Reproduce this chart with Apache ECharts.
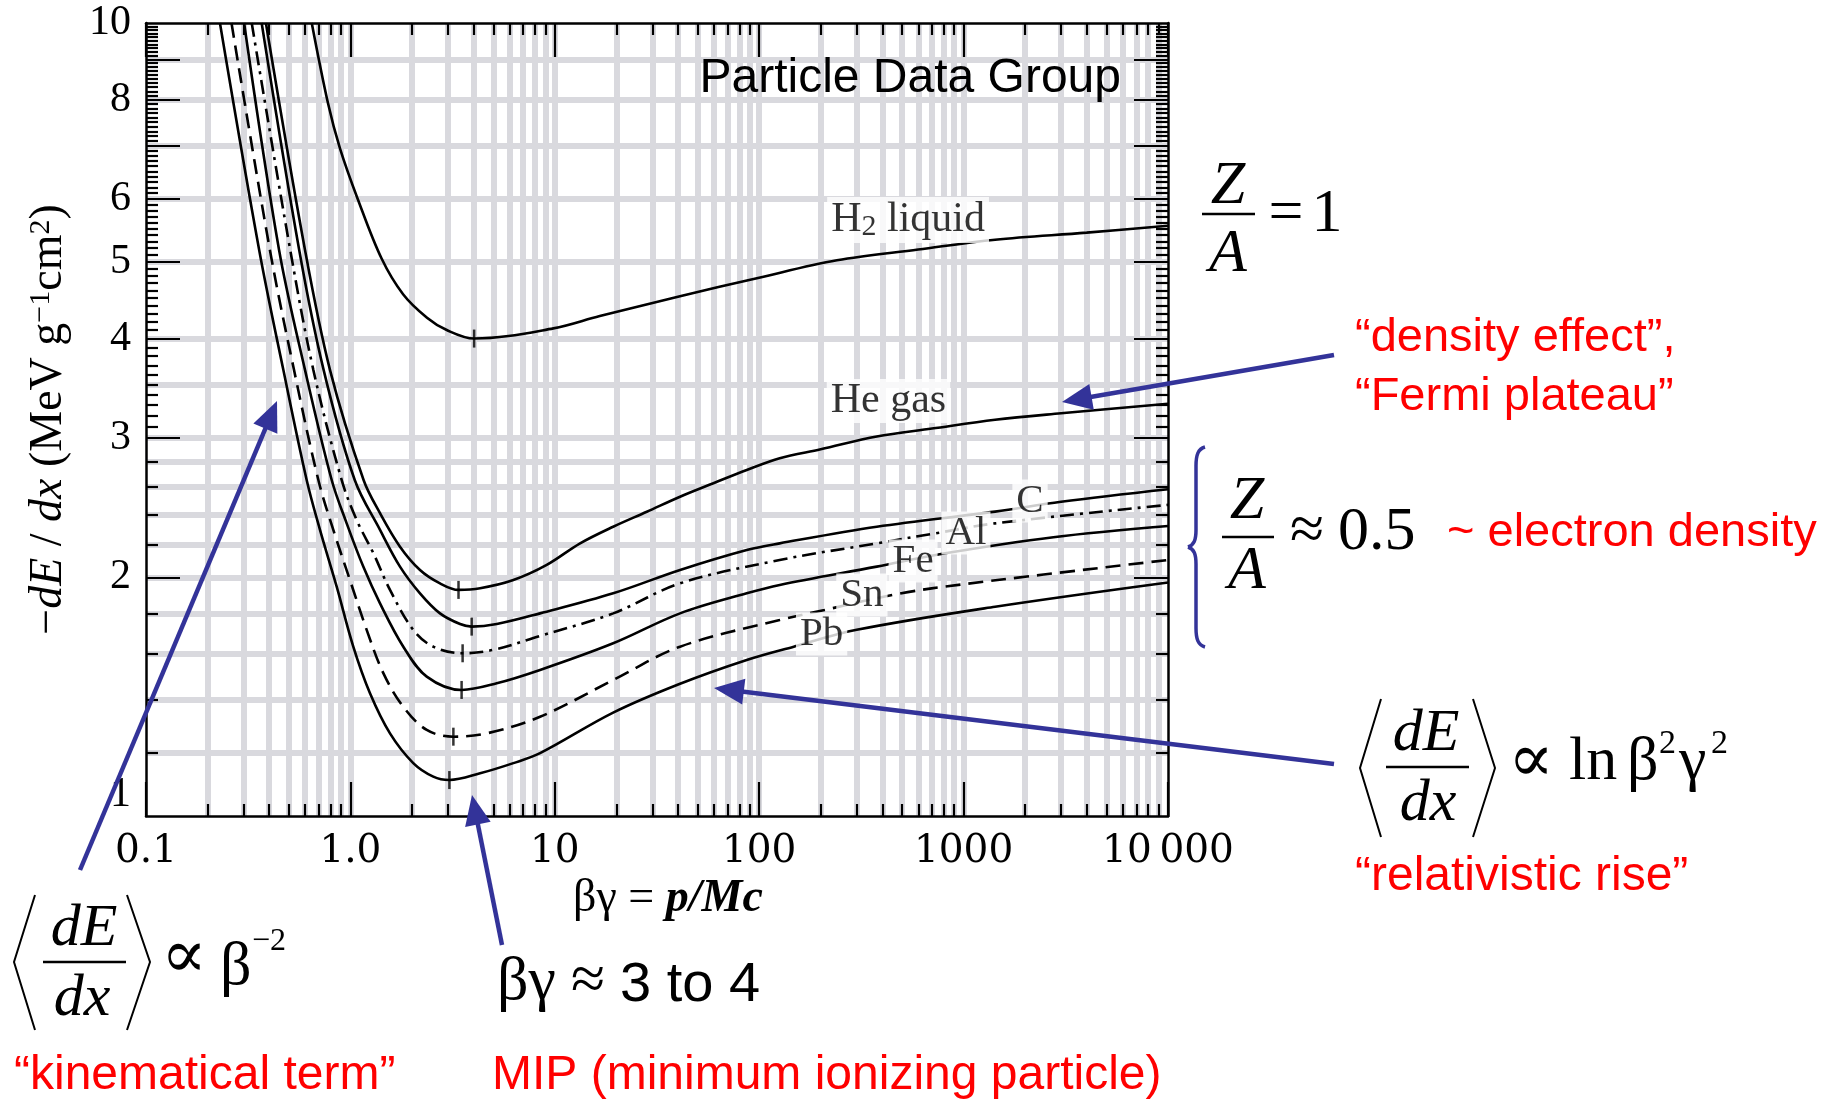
<!DOCTYPE html>
<html><head><meta charset="utf-8">
<script src="https://cdn.jsdelivr.net/npm/echarts@6/dist/echarts.min.js"></script>
<style>html,body{margin:0;padding:0;background:#fff}#c{width:1835px;height:1107px}</style>
</head><body><div id="c"></div>
<script>
// ---------- axis ticks / labels ----------
const xMajorTicks = [0.1, 1, 10, 100, 1000, 10000];
const xTickLabels = ['0.1', '1.0', '10', '100', '1000', '10\u2009000'];
const xMinorTicks = [0.2,0.3,0.4,0.5,0.6,0.7,0.8,0.9, 2,3,4,5,6,7,8,9, 20,30,40,50,60,70,80,90,
  200,300,400,500,600,700,800,900, 2000,3000,4000,5000,6000,7000,8000,9000];
const xGridLines = [0.2,0.3,0.4,0.5,0.6,0.7,0.8,0.9,1, 2,3,4,5,6,7,8,9,10, 20,30,40,50,60,70,80,90,100,
  200,300,400,500,600,700,800,900,1000, 2000,3000,4000,5000,6000,7000,8000,9000];
const yLabelTicks = [1, 2, 3, 4, 5, 6, 8, 10];
const yTickLabels = ['1', '2', '3', '4', '5', '6', '8', '10'];
const yLongTicks = [2, 3, 4, 5, 6, 7, 8, 9];
const yMinorTicks = [1.2,1.4,1.6,1.8, 2.2,2.4,2.6,2.8, 3.1,3.2,3.3,3.4,3.5,3.6,3.7,3.8,3.9,
  4.1,4.2,4.3,4.4,4.5,4.6,4.7,4.8,4.9, 5.1,5.2,5.3,5.4,5.5,5.6,5.7,5.8,5.9,
  6.1,6.2,6.3,6.4,6.5,6.6,6.7,6.8,6.9, 7.1,7.2,7.3,7.4,7.5,7.6,7.7,7.8,7.9,
  8.1,8.2,8.3,8.4,8.5,8.6,8.7,8.8,8.9, 9.1,9.2,9.3,9.4,9.5,9.6,9.7,9.8,9.9];
const yGridLines = [1.2,1.4,1.6,1.8,2,2.2,2.4,2.6,2.8,3,3.5,4,5,6,7,8,9];

// ---------- curves: [βγ, -dE/dx] ----------
const h2Liquid = [[0.647,10],[0.777,7.92],[0.889,6.95],[1.086,6.0],[1.419,5.05],[1.81,4.55],[2.37,4.25],[2.96,4.10],[4.03,4.00],[9.84,4.12],[16.6,4.27],[40.5,4.52],[98.6,4.77],[240,5.02],[600,5.18],[1426,5.33],[4000,5.44],[10000,5.55]];
const heGas = [[0.386,10],[0.600,5.17],[0.795,3.65],[1.16,2.653],[1.396,2.409],[1.748,2.186],[2.19,2.043],[2.744,1.965],[3.38,1.928],[4.31,1.937],[6.27,1.984],[9.13,2.073],[13.3,2.207],[19.3,2.316],[28.2,2.419],[41,2.527],[59.7,2.628],[86.9,2.731],[126,2.826],[200,2.90],[376,3.01],[700,3.08],[1426,3.16],[3000,3.22],[10000,3.31]];
const carbon = [[0.368,10],[0.562,5.17],[0.740,3.65],[1.05,2.653],[1.396,2.295],[1.748,2.063],[2.19,1.909],[2.744,1.801],[3.44,1.746],[3.92,1.733],[5.2,1.746],[8.47,1.801],[19.3,1.909],[41,2.043],[86.9,2.165],[126,2.207],[376,2.316],[1426,2.42],[3000,2.49],[10000,2.582]];
const aluminium = [[0.329,10],[0.508,5.17],[0.659,3.65],[0.906,2.653],[1.073,2.362],[1.295,2.145],[1.562,1.928],[2.03,1.717],[2.544,1.635],[3.54,1.604],[5.0,1.62],[8.47,1.687],[19.3,1.801],[41,1.965],[126,2.103],[376,2.207],[733,2.273],[1426,2.339],[10000,2.468]];
const iron = [[0.302,10],[0.448,5.17],[0.600,3.65],[0.810,2.653],[0.959,2.339],[1.156,2.063],[1.396,1.854],[1.815,1.635],[2.363,1.499],[3.50,1.442],[5.2,1.47],[8.47,1.528],[19.3,1.651],[41,1.801],[86.9,1.909],[126,1.956],[376,2.063],[800,2.143],[2750,2.247],[10000,2.321]];
const tin = [[0.262,10],[0.404,5.17],[0.530,3.65],[0.697,2.653],[0.825,2.295],[0.995,1.984],[1.201,1.717],[1.449,1.514],[1.815,1.373],[2.363,1.284],[3.19,1.259],[4.64,1.271],[8.47,1.334],[19.3,1.484],[41,1.635],[126,1.767],[209,1.819],[489,1.908],[1000,1.96],[10000,2.103]];
const lead = [[0.230,10],[0.358,5.17],[0.470,3.65],[0.611,2.653],[0.710,2.295],[0.857,1.946],[1.033,1.635],[1.247,1.428],[1.562,1.271],[2.03,1.166],[2.544,1.121],[3.05,1.110],[4.31,1.132],[6.27,1.166],[8.47,1.2],[19.3,1.35],[41,1.468],[86.9,1.573],[147.6,1.635],[300,1.717],[1426,1.836],[10000,1.97]];
const minima = [[4.03,4.00],[3.38,1.928],[3.92,1.733],[3.54,1.604],[3.50,1.442],[3.19,1.259],[3.05,1.110]];
const curveNames = ['H2 liquid','He gas','C','Al','Fe','Sn','Pb'];

// ---------- styling ----------
const SERIF = '"Liberation Serif","DejaVu Serif",serif';
const WSERIF = '"DejaVu Serif","Liberation Serif",serif';
const SANS = '"Liberation Sans",Arial,sans-serif';
const BLUE = '#333399';
const RED = '#ff0000';
const GRID = '#d9d9de';

function xAx(pos, ticks, len, showLine, extra) {
  return Object.assign({
    type: 'log', logBase: 10, min: 0.1, max: 10000, position: pos, z: 6,
    axisLine: { show: showLine, lineStyle: { color: '#000', width: 2.5 } },
    axisTick: { show: true, inside: true, length: len, customValues: ticks, lineStyle: { color: '#000', width: 2.2 } },
    axisLabel: { show: false }, splitLine: { show: false }, minorTick: { show: false }, minorSplitLine: { show: false }
  }, extra || {});
}
function yAx(pos, ticks, len, showLine, extra) {
  return Object.assign({
    type: 'log', logBase: 10, min: 1, max: 10, position: pos, z: 6,
    axisLine: { show: showLine, lineStyle: { color: '#000', width: 2.5 } },
    axisTick: { show: true, inside: true, length: len, customValues: ticks, lineStyle: { color: '#000', width: 2.2 } },
    axisLabel: { show: false }, splitLine: { show: false }, minorTick: { show: false }, minorSplitLine: { show: false }
  }, extra || {});
}
function lab(arrT, arrL) {
  return v => { const i = arrT.findIndex(t => Math.abs(t - v) / t < 1e-6); return i >= 0 ? arrL[i] : ''; };
}

const lineSeries = (name, data, type) => ({
  name, type: 'line', data, xAxisIndex: 0, yAxisIndex: 0, smooth: 0.35, showSymbol: false, symbol: 'none',
  lineStyle: { color: '#000', width: 2.6, type: type || 'solid' }, z: 3, animation: false, clip: true
});

// graphic helpers
function txt(x, base, text, size, o) {
  o = o || {};
  return { type: 'text', x: x, y: base - size * 0.32, z: 100, silent: true,
    style: { text: text, font: (o.italic ? 'italic ' : '') + (o.bold ? 'bold ' : '') + size + 'px ' + (o.sans ? SANS : SERIF),
      fill: o.color || '#000', align: o.align || 'left', verticalAlign: 'middle' } };
}
function seg(x1, y1, x2, y2, w, c) {
  return { type: 'line', z: 100, silent: true, shape: { x1: x1, y1: y1, x2: x2, y2: y2 }, style: { stroke: c || '#000', lineWidth: w || 2.5 } };
}
function hline(x1, x2, y, w, c) { return seg(x1, y, x2, y, w, c); }
function poly(pts, w, c) {
  return { type: 'polyline', z: 100, silent: true, shape: { points: pts }, style: { stroke: c || '#000', lineWidth: w || 2, fill: null } };
}
function bez(x1, y1, c1x, c1y, c2x, c2y, x2, y2, w, c) {
  return { type: 'bezierCurve', z: 100, silent: true,
    shape: { x1: x1, y1: y1, cpx1: c1x, cpy1: c1y, cpx2: c2x, cpy2: c2y, x2: x2, y2: y2 },
    style: { stroke: c, lineWidth: w, fill: null } };
}
function arrow(x1, y1, x2, y2) {
  const dx = x2 - x1, dy = y2 - y1, L = Math.hypot(dx, dy), ux = dx / L, uy = dy / L;
  const hl = 30, hw = 13, bx = x2 - ux * hl, by = y2 - uy * hl;
  return [
    { type: 'line', z: 100, silent: true, shape: { x1: x1, y1: y1, x2: bx + ux * 4, y2: by + uy * 4 }, style: { stroke: BLUE, lineWidth: 4.5 } },
    { type: 'polygon', z: 100, silent: true, shape: { points: [[x2, y2], [bx - uy * hw, by + ux * hw], [bx + uy * hw, by - ux * hw]] }, style: { fill: BLUE } }
  ];
}

const graphics = [
  // Particle Data Group
  txt(1121, 94, 'Particle Data Group', 48, { sans: true, align: 'right' }),
  // Z/A = 1
  txt(1228, 207, 'Z', 62, { italic: true, align: 'center' }),
  hline(1202, 1255, 214, 2.5),
  txt(1228, 275, 'A', 62, { italic: true, align: 'center' }),
  txt(1286, 235, '=', 62, { align: 'center' }),
  txt(1327, 235, '1', 62, { align: 'center' }),
  // density effect
  txt(1355, 353, '\u201cdensity effect\u201d,', 47, { sans: true, color: RED }),
  txt(1355, 412, '\u201cFermi plateau\u201d', 47, { sans: true, color: RED }),
  ...arrow(1334, 355, 1062, 402),
  // brace
  bez(1205, 447, 1198, 449, 1196, 455, 1196, 466, 3.5, BLUE),
  seg(1196, 466, 1196, 530, 3.5, BLUE),
  bez(1196, 530, 1196, 540, 1194, 545, 1188, 547, 3.5, BLUE),
  bez(1188, 547, 1194, 549, 1196, 554, 1196, 564, 3.5, BLUE),
  seg(1196, 564, 1196, 628, 3.5, BLUE),
  bez(1196, 628, 1196, 639, 1198, 645, 1205, 647, 3.5, BLUE),
  // Z/A ≈ 0.5
  txt(1247, 522, 'Z', 62, { italic: true, align: 'center' }),
  hline(1222, 1274, 537, 2.5),
  txt(1247, 592, 'A', 62, { italic: true, align: 'center' }),
  txt(1307, 553, '\u2248', 62, { align: 'center' }),
  txt(1338, 553, '0.5', 62),
  txt(1447, 548, '~ electron density', 47, { sans: true, color: RED }),
  // <dE/dx> ∝ ln β²γ²
  poly([[1381, 699], [1360, 768], [1381, 837]]),
  poly([[1473, 699], [1495, 768], [1473, 837]]),
  txt(1426, 753, 'dE', 60, { italic: true, align: 'center' }),
  hline(1386, 1469, 767, 2.5),
  txt(1428, 823, 'dx', 60, { italic: true, align: 'center' }),
  txt(1531, 785, '\u221d', 68, { align: 'center' }),
  txt(1569, 783, 'ln', 62),
  txt(1627, 783, '\u03b2', 62),
  txt(1659, 755, '2', 34),
  txt(1679, 783, '\u03b3', 62),
  txt(1711, 755, '2', 34),
  ...arrow(1334, 764, 714, 688),
  txt(1355, 892, '\u201crelativistic rise\u201d', 48, { sans: true, color: RED }),
  // left bottom formula
  poly([[35, 895], [14, 962], [35, 1030]]),
  poly([[127, 895], [150, 962], [127, 1030]]),
  txt(84, 948, 'dE', 60, { italic: true, align: 'center' }),
  hline(43, 126, 962, 2.5),
  txt(82, 1018, 'dx', 60, { italic: true, align: 'center' }),
  txt(184, 981, '\u221d', 68, { align: 'center' }),
  txt(220, 988, '\u03b2', 62),
  txt(252, 952, '\u22122', 32),
  txt(14, 1091, '\u201ckinematical term\u201d', 48, { sans: true, color: RED }),
  ...arrow(80, 870, 277, 401),
  // MIP
  txt(497, 1003, '\u03b2\u03b3', 62),
  txt(588, 1003, '\u2248', 62, { align: 'center' }),
  txt(620, 1003, '3 to 4', 56, { sans: true }),
  txt(492, 1091, 'MIP (minimum ionizing particle)', 48, { sans: true, color: RED }),
  ...arrow(502, 945, 472, 795)
];

const labelStyleRich = {
  n: { fontFamily: SERIF, fontSize: 42, color: '#000' },
  sub: { fontFamily: SERIF, fontSize: 30, color: '#000', verticalAlign: 'bottom', padding: [14, 0, 0, 0] },
  e: { fontFamily: SERIF, fontSize: 41, color: '#000' }
};
const curveLabels = [
  { value: [535, 5.645], t: '{n|H}{sub|2}{n| liquid}' },
  { value: [429, 3.337], t: '{n|He gas}' },
  { value: [2113, 2.496], t: '{e|C}' },
  { value: [1027, 2.275], t: '{e|Al}' },
  { value: [566, 2.097], t: '{e|Fe}' },
  { value: [318, 1.900], t: '{e|Sn}' },
  { value: [202, 1.696], t: '{e|Pb}' }
];

const option = {
  animation: false,
  backgroundColor: '#fff',
  grid: { left: 146, top: 23, width: 1022, height: 793, containLabel: false },
  xAxis: [
    xAx('bottom', xMajorTicks, 34, true, {
      axisLabel: { show: true, customValues: xMajorTicks, formatter: lab(xMajorTicks, xTickLabels), margin: 16,
        color: '#000', fontFamily: WSERIF, fontSize: 39 },
      name: '{r|\u03b2\u03b3 = }{i|p/Mc}', nameLocation: 'middle', nameGap: 56,
      nameTextStyle: { padding: [0, 0, 0, 22], rich: { r: { fontFamily: SERIF, fontSize: 46, color: '#000' }, i: { fontFamily: SERIF, fontSize: 46, fontStyle: 'italic', fontWeight: 'bold', color: '#000' } } }
    }),
    xAx('bottom', xMinorTicks, 12, false),
    xAx('top', xMajorTicks, 34, true),
    xAx('top', xMinorTicks, 12, false)
  ],
  yAxis: [
    yAx('left', yLongTicks, 34, true, {
      axisLabel: { show: true, customValues: yLabelTicks, formatter: lab(yLabelTicks, yTickLabels), margin: 15,
        color: '#000', fontFamily: SERIF, fontSize: 42, verticalAlignMinLabel: 'bottom' },
      name: '{r|\u2212}{i|dE}{r| / }{i|dx}{r| (MeV g}{s|\u22121}{r|cm}{s|2}{r|)}', nameLocation: 'middle', nameRotate: 90, nameGap: 74,
      nameTextStyle: { rich: {
        r: { fontFamily: SERIF, fontSize: 46, color: '#000' },
        i: { fontFamily: SERIF, fontSize: 46, fontStyle: 'italic', color: '#000' },
        s: { fontFamily: SERIF, fontSize: 30, color: '#000', verticalAlign: 'top', padding: [0, 0, 16, 0] } } }
    }),
    yAx('left', yMinorTicks, 12, false),
    yAx('right', yLongTicks, 34, true),
    yAx('right', yMinorTicks, 12, false)
  ],
  series: [
    { name: 'grid', type: 'line', data: [], xAxisIndex: 0, yAxisIndex: 0, z: 1, silent: true,
      markLine: { z: 1, silent: true, symbol: 'none', animation: false, label: { show: false },
        emphasis: { disabled: true },
        lineStyle: { color: GRID, width: 6, type: 'solid', opacity: 1 },
        data: xGridLines.map(v => ({ xAxis: v, lineStyle: { color: GRID, width: 6, type: 'solid' } }))
          .concat(yGridLines.map(v => ({ yAxis: v, lineStyle: { color: GRID, width: 6, type: 'solid' } }))) } },
    lineSeries(curveNames[0], h2Liquid),
    lineSeries(curveNames[1], heGas),
    lineSeries(curveNames[2], carbon),
    lineSeries(curveNames[3], aluminium, [14, 6, 3, 6]),
    lineSeries(curveNames[4], iron),
    lineSeries(curveNames[5], tin, [15, 8]),
    lineSeries(curveNames[6], lead),
    { name: 'minimum', type: 'scatter', data: minima, xAxisIndex: 0, yAxisIndex: 0, symbol: 'rect', symbolSize: [2.5, 18],
      itemStyle: { color: '#000' }, z: 4, silent: true },
    { name: 'labels', type: 'scatter', xAxisIndex: 0, yAxisIndex: 0, symbolSize: 0, z: 5, silent: true,
      data: curveLabels.map(d => ({ value: d.value, t: d.t })),
      label: { show: true, position: 'inside', formatter: p => p.data.t, backgroundColor: '#fff', padding: [1, 4, 1, 4], rich: labelStyleRich } }
  ],
  graphic: graphics
};
const chart = echarts.init(document.getElementById('c'), null, { renderer: 'canvas' });
chart.setOption(option);
</script></body></html>
